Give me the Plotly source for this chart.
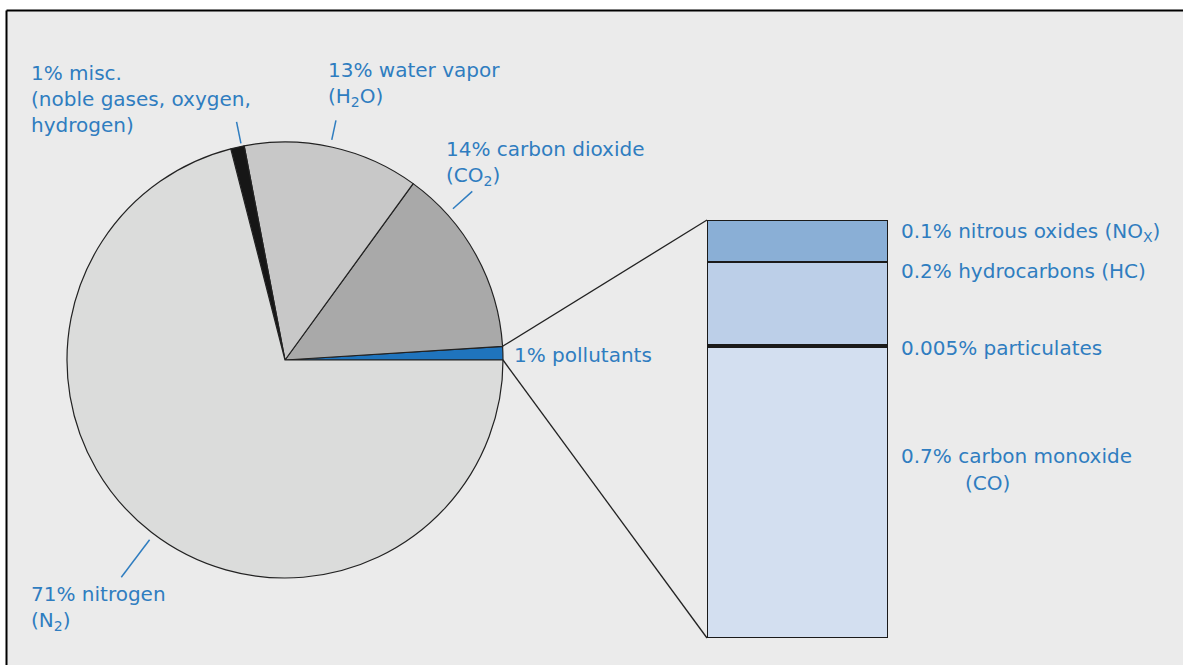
import math
import plotly.graph_objects as go

# ---------------- data ----------------
pie_labels = ["pollutants", "carbon dioxide", "water vapor", "misc.", "nitrogen"]
pie_values = [1, 14, 13, 1, 71]

bar_labels = ["carbon monoxide", "particulates", "hydrocarbons", "nitrous oxides"]
bar_values = [0.7, 0.005, 0.2, 0.1]

pie_texts = [
    "1% pollutants",
    "14% carbon dioxide<br>(CO<sub>2</sub>)",
    "13% water vapor<br>(H<sub>2</sub>O)",
    "1% misc.<br>(noble gases, oxygen,<br>hydrogen)",
    "71% nitrogen<br>(N<sub>2</sub>)",
]
bar_texts = [
    "0.7% carbon monoxide",
    "0.005% particulates",
    "0.2% hydrocarbons (HC)",
    "0.1% nitrous oxides (NO<sub>X</sub>)",
]

# ---------------- styles / layout ----------------
W, H = 1183, 665
pie_colors = ["#1f74bd", "#a9a9a9", "#c8c8c8", "#161616", "#dbdcdb"]
bar_colors = ["#d3dff0", "#111111", "#bccfe8", "#8aafd6"]
txt_color = "#2f7dc0"
FONT = "DejaVu Sans"
FS = 20
LINE_H = 1.3 * FS

cx_px, cy_px, R = 285, 360, 218
bar_x0, bar_x1, bar_ytop, bar_ybot = 707, 888, 220, 638
frame_x, frame_y = 6.5, 10.5


def px(x):
    return x / W


def py(y):
    return 1 - y / H


frac_poll = pie_values[0] / sum(pie_values)

fig = go.Figure()
fig.add_trace(go.Pie(
    labels=pie_labels, values=pie_values, sort=False, direction="counterclockwise",
    rotation=90 - 360 * frac_poll, textinfo="none", hoverinfo="label+percent",
    marker=dict(colors=pie_colors, line=dict(color="#222222", width=1.2)),
    domain=dict(x=[px(cx_px - R), px(cx_px + R)], y=[py(cy_px + R), py(cy_px - R)]),
    showlegend=False,
))

for lab, val, col in zip(bar_labels, bar_values, bar_colors):
    fig.add_trace(go.Bar(
        x=[0.5], y=[val], width=[1], name=lab, cliponaxis=False,
        marker=dict(color=col, line=dict(color="#1a1a1a", width=2)),
        xaxis="x", yaxis="y", showlegend=False,
    ))

total_bar = sum(bar_values)
fig.update_layout(
    width=W, height=H, margin=dict(l=0, r=0, t=0, b=0),
    paper_bgcolor="#ebebeb", plot_bgcolor="rgba(0,0,0,0)",
    barmode="stack", bargap=0,
    xaxis=dict(domain=[px(bar_x0), px(bar_x1)], range=[0, 1], visible=False, fixedrange=True),
    yaxis=dict(domain=[py(bar_ybot), py(bar_ytop)], range=[0, total_bar], visible=False, fixedrange=True),
    font=dict(family=FONT, size=FS, color=txt_color),
)

# white outer margin on left/top and the black frame edges
shapes = [
    dict(type="rect", xref="paper", yref="paper", x0=0, x1=px(frame_x), y0=0, y1=1,
         fillcolor="white", line=dict(width=0), layer="below"),
    dict(type="rect", xref="paper", yref="paper", x0=0, x1=1, y0=py(frame_y), y1=1,
         fillcolor="white", line=dict(width=0), layer="below"),
    dict(type="line", xref="paper", yref="paper", x0=px(frame_x), x1=px(frame_x), y0=0, y1=py(frame_y),
         line=dict(color="black", width=2), layer="below"),
    dict(type="line", xref="paper", yref="paper", x0=px(frame_x), x1=1, y0=py(frame_y), y1=py(frame_y),
         line=dict(color="black", width=2), layer="below"),
]

# connector lines from pollutants slice to bar
a_top = 2 * math.pi * frac_poll
shapes.append(dict(type="line", xref="paper", yref="paper",
                   x0=px(cx_px + R * math.cos(a_top)), y0=py(cy_px - R * math.sin(a_top)),
                   x1=px(bar_x0), y1=py(bar_ytop), line=dict(color="#222222", width=1.3)))
shapes.append(dict(type="line", xref="paper", yref="paper",
                   x0=px(cx_px + R), y0=py(cy_px),
                   x1=px(bar_x0), y1=py(bar_ybot), line=dict(color="#222222", width=1.3)))

# leader lines (angle deg, inner r, outer r) for CO2, water, misc, nitrogen
leaders = [(42, 226, 252), (78, 225, 245), (101.5, 221, 243), (233, 225, 272)]
for ang, r0, r1 in leaders:
    a = math.radians(ang)
    shapes.append(dict(type="line", xref="paper", yref="paper",
                       x0=px(cx_px + r0 * math.cos(a)), y0=py(cy_px - r0 * math.sin(a)),
                       x1=px(cx_px + r1 * math.cos(a)), y1=py(cy_px - r1 * math.sin(a)),
                       line=dict(color=txt_color, width=1.5)))

fig.update_layout(shapes=shapes)

# label positions (left x, first baseline y) in px
pie_text_pos = [(512, 362), (444, 157), (326, 78), (29, 80), (29, 602)]
bar_text_pos = [(899, 463), (899, 355), (899, 278), (899, 239)]

ann = []


def add_label(text, x, y_base):
    n = len(text.split("<br>"))
    yc = y_base + (n - 1) / 2 * LINE_H - 0.35 * FS
    ann.append(dict(text=text, x=px(x), y=py(yc), xref="paper", yref="paper",
                    xanchor="left", yanchor="middle", align="left", showarrow=False))


for t, (x, y) in zip(pie_texts, pie_text_pos):
    add_label(t, x, y)
for t, (x, y) in zip(bar_texts, bar_text_pos):
    add_label(t, x, y)
add_label("(CO)", 963, 490)
fig.update_layout(annotations=ann)

fig.write_html("out.html", config={"displayModeBar": False},
               post_script="document.body.style.margin='0';document.body.style.overflow='hidden';")
